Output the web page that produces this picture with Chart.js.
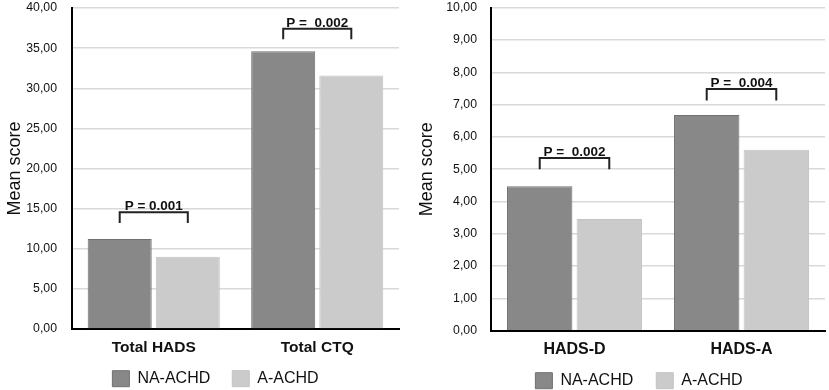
<!DOCTYPE html>
<html>
<head>
<meta charset="utf-8">
<script src="https://cdn.jsdelivr.net/npm/chart.js@4/dist/chart.umd.min.js"></script>
<style>
  html, body { margin: 0; padding: 0; background: #fff; overflow: hidden; }
  #wrap { position: relative; width: 829px; height: 390px; overflow: hidden; }
  canvas { position: absolute; top: 0; }
  #left { left: 0; }
  #right { left: 410px; }
</style>
</head>
<body>
<div id="wrap">
  <canvas id="left" width="431" height="390"></canvas>
  <canvas id="right" width="458" height="390"></canvas>
</div>
<script>
// -- THE DATA --
const seriesNames = ['NA-ACHD', 'A-ACHD'];

// left panel: totals
const leftCategories = ['Total HADS', 'Total CTQ'];
const leftNA = [11.2, 34.6];
const leftA = [9.0, 31.6];
const leftPValues = ['P = 0.001', 'P =  0.002'];
const leftBracketTop = [14.55, 37.4];  // bracket bar level (data units)
const leftBracketLeg = [13.2, 36.1];   // where the bracket legs stop
const leftTicks = { max: 40, step: 5 };

// right panel: subscales
const rightCategories = ['HADS-D', 'HADS-A'];
const rightNA = [4.47, 6.68];
const rightA = [3.46, 5.6];
const rightPValues = ['P =  0.002', 'P =  0.004'];
const rightBracketTop = [5.35, 7.48];
const rightBracketLeg = [5.0, 7.13];
const rightTicks = { max: 10, step: 1 };

// -- THE CHART --
const FONT = "'Liberation Sans', Arial, Helvetica, sans-serif";

// draws the significance brackets and p-value labels over each pair of bars
const bracketPlugin = {
  id: 'brackets',
  afterDatasetsDraw(chart, args, opts) {
    const ctx = chart.ctx;
    const y = chart.scales.y;
    const m0 = chart.getDatasetMeta(0).data;
    const m1 = chart.getDatasetMeta(1).data;
    ctx.save();
    ctx.strokeStyle = '#222';
    ctx.lineWidth = 2;
    ctx.fillStyle = '#111';
    ctx.font = 'bold 13.5px ' + FONT;
    ctx.textAlign = 'center';
    ctx.textBaseline = 'alphabetic';
    opts.labels.forEach((txt, i) => {
      const x0 = m0[i].x, x1 = m1[i].x;
      const yt = y.getPixelForValue(opts.top[i]);
      const yl = y.getPixelForValue(opts.leg[i]);
      ctx.beginPath();
      ctx.moveTo(x0, yl);
      ctx.lineTo(x0, yt);
      ctx.lineTo(x1, yt);
      ctx.lineTo(x1, yl);
      ctx.stroke();
      ctx.fillText(txt, (x0 + x1) / 2, yt - 2);
    });
    ctx.restore();
  }
};

// pulls the legend up a little closer to the category labels
const legendShift = {
  id: 'legendShift',
  afterLayout(chart, args, opts) {
    const lg = chart.legend;
    if (!lg) return;
    lg.top -= opts.by;  // bottom stays, so the legend's clip box still covers the items
  }
};

function draw(id, cats, na, a, pLabels, bTop, bLeg, ticks, cfg) {
  const ctx = document.getElementById(id).getContext('2d');
  new Chart(ctx, {
    type: 'bar',
    data: {
      labels: cats,
      datasets: [
        {
          label: seriesNames[0],
          data: na,
          backgroundColor: '#888888',
          borderColor: '#707070',
          borderWidth: 1,
          barPercentage: 0.94,
          categoryPercentage: 0.833
        },
        {
          label: seriesNames[1],
          data: a,
          backgroundColor: '#cbcbcb',
          borderColor: '#c3c3c3',
          borderWidth: 1,
          barPercentage: 0.94,
          categoryPercentage: 0.833
        }
      ]
    },
    options: {
      responsive: false,
      animation: false,
      layout: { padding: { left: 0, right: 0, top: cfg.top, bottom: 0 } },
      scales: {
        x: {
          grid: { display: false, drawTicks: false },
          border: { display: true, color: '#000', width: 2 },
          ticks: { padding: 9, color: '#111', font: { family: FONT, size: cfg.xFont, weight: 'bold' } },
          afterFit(s) { s.height = 30; }
        },
        y: {
          min: 0,
          max: ticks.max,
          grid: { color: '#d9d9d9', lineWidth: 1.5, drawTicks: false },
          border: { display: true, color: '#000', width: 2 },
          ticks: {
            stepSize: ticks.step,
            padding: cfg.tickPad,
            color: '#111',
            font: { family: FONT, size: 12.3 },
            callback: v => v.toFixed(2).replace('.', ',')
          },
          title: {
            display: true,
            text: 'Mean score',
            color: '#111',
            font: { family: FONT, size: 18 },
            padding: { top: cfg.titlePad, bottom: 0 }
          },
          afterFit(s) {
            s.width = cfg.yWidth;
            s.paddingTop = 0;
            s.paddingBottom = 0;
          }
        },
        // invisible axis on the right, only to leave room so the legend sits where it should
        yR: {
          type: 'linear',
          position: 'right',
          grid: { display: false },
          border: { display: false },
          ticks: { display: false },
          afterFit(s) { s.width = cfg.rightGap; s.paddingTop = 0; s.paddingBottom = 0; }
        }
      },
      plugins: {
        legend: {
          position: 'bottom',
          maxHeight: cfg.legendH,
          labels: {
            boxWidth: 17,
            boxHeight: 16,
            padding: cfg.legendPad,
            color: '#111',
            font: { family: FONT, size: 16 }
          }
        },
        legendShift: { by: cfg.legendShift },
        tooltip: { enabled: false },
        brackets: { labels: pLabels, top: bTop, leg: bLeg }
      }
    },
    plugins: [bracketPlugin, legendShift]
  });
}

draw('left', leftCategories, leftNA, leftA, leftPValues, leftBracketTop, leftBracketLeg, leftTicks,
  { top: 8, legendH: 31, legendShift: 10.3, yWidth: 72, rightGap: 32, tickPad: 15, titlePad: 4, xFont: 15.5, legendPad: 22 });
draw('right', rightCategories, rightNA, rightA, rightPValues, rightBracketTop, rightBracketLeg, rightTicks,
  { top: 7.7, legendH: 29.3, legendShift: 11, yWidth: 81, rightGap: 43, tickPad: 14, titlePad: 6, xFont: 16, legendPad: 23 });
</script>
</body>
</html>
